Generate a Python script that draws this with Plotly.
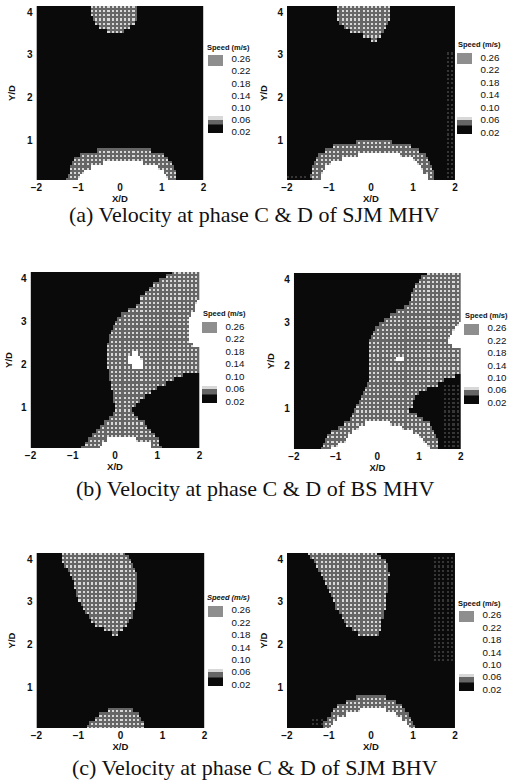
import numpy as np
import plotly.graph_objects as go

W, H = 511, 780
X_TICKS = [-2, -1, 0, 1, 2]
Y_TICKS = [1, 2, 3, 4]
LEGEND_TICKS = [0.02, 0.06, 0.10, 0.14, 0.18, 0.22, 0.26]
LEGEND_LABELS = ["0.02", "0.06", "0.10", "0.14", "0.18", "0.22", "0.26"]
CAPTIONS = ["(a) Velocity at phase C &amp; D of SJM MHV",
            "(b) Velocity at phase C &amp; D of BS MHV",
            "(c) Velocity at phase C &amp; D of SJM BHV"]
SPEED_LOW, SPEED_SPECK, SPEED_MID_DARK, SPEED_MID_LIGHT, SPEED_HIGH = 0.02, 0.0425, 0.052, 0.065, 0.14

ROW_Y = [round(0.025 + 0.05 * i, 3) for i in range(84)]
COL_X = [round(-1.975 + 0.05 * i, 3) for i in range(80)]

# (y row, x from, x to) spans
A_C_MID = [(4.15,-.7,.42),(4.05,-.7,.41),(3.95,-.68,.4),(3.85,-.65,.38),(3.75,-.6,.33),(3.65,-.5,.27),(3.55,-.3,.08),
           (.75,-.55,.75),(.65,-.96,1.03),(.55,-1.08,1.15),(.45,-1.16,1.23),(.35,-1.2,1.3),(.25,-1.22,1.35),(.15,-1.25,1.35),(.05,-1.28,1.35)]
A_C_HIGH = [(.45,-.38,.56),(.35,-.68,.92),(.25,-.87,1.04),(.15,-.97,1.11),(.05,-1.0,1.15)]
A_C_SPECK = []

A_D_MID = [(4.15,-.8,.47),(4.05,-.8,.47),(3.95,-.8,.47),(3.85,-.78,.43),(3.75,-.75,.39),(3.65,-.66,.35),(3.55,-.5,.3),(3.45,-.2,.25),(3.35,-.02,.17),
           (.95,-.35,.5),(.85,-.9,.97),(.75,-1.09,1.17),(.65,-1.25,1.28),(.55,-1.32,1.36),(.45,-1.36,1.42),(.35,-1.4,1.45),(.25,-1.42,1.5),(.15,-1.44,1.52),(.05,-1.4,1.52)]
A_D_HIGH = [(.65,-.3,.7),(.55,-.7,1.0),(.45,-.95,1.1),(.35,-1.08,1.2),(.25,-1.15,1.27),(.15,-1.2,1.33),(.05,-1.22,1.37)]
A_D_SPECK = [(0.1, 3.1, 1.75, 2.0), (0.0, 0.2, -2.0, -1.5)]

B_C_MID = [(4.15,1.34,2),(4.05,1.22,2),(3.95,1.07,2),(3.85,.91,2),(3.75,.8,2),(3.65,.68,2),(3.55,.62,2),(3.45,.6,2),(3.35,.49,2),(3.25,.29,2),(3.15,.14,2),
           (3.05,.06,2),(2.95,0,2),(2.85,-.06,2),(2.75,-.1,2),(2.65,-.14,2),(2.55,-.16,2),(2.45,-.19,2),(2.35,-.2,2),(2.25,-.21,2),(2.15,-.21,2),(2.05,-.21,2),
           (1.95,-.2,2),(1.85,-.17,2),(1.75,-.15,1.6),(1.65,-.13,1.38),(1.55,-.1,1.18),(1.45,-.08,1.0),(1.35,-.07,.87),(1.25,-.05,.72),(1.15,-.03,.6),(1.05,-.01,.51),
           (.95,0,.41),(.85,-.06,.45),(.75,-.16,.56),(.65,-.27,.68),(.55,-.37,.77),(.45,-.47,.87),(.35,-.55,.95),(.25,-.64,1.03),(.15,-.72,1.07),(.05,-.78,1.11)]
B_C_HIGH = [(2.25,.41,.56),(2.15,.29,.62),(2.05,.29,.65),(1.95,.41,.65),
            (3.45,1.96,2),(3.35,1.92,2),(3.25,1.88,2),(3.15,1.82,2),(3.05,1.77,2),(2.95,1.73,2),(2.85,1.73,2),(2.75,1.73,2),(2.65,1.73,2),(2.55,1.77,2),(2.45,1.86,2),
            (.25,-.21,.52),(.15,-.29,.83),(.05,-.33,.87)]
B_C_SPECK = []

B_D_MID = [(4.15,1.19,2),(4.05,1.07,2),(3.95,.98,2),(3.85,.89,2),(3.75,.85,2),(3.65,.81,2),(3.55,.78,2),(3.45,.73,2),(3.35,.67,2),(3.25,.46,2),(3.15,.29,2),
           (3.05,.15,2),(2.95,.05,2),(2.85,-.04,2),(2.75,-.12,2),(2.65,-.16,2),(2.55,-.18,2),(2.45,-.2,2),(2.35,-.2,2),(2.25,-.2,2),(2.15,-.2,2),(2.05,-.2,2),
           (1.95,-.18,2),(1.85,-.2,2),(1.75,-.2,1.86),(1.65,-.2,1.62),(1.55,-.24,1.43),(1.45,-.29,1.19),(1.35,-.34,1.01),(1.25,-.39,.92),(1.15,-.44,.85),(1.05,-.5,.84),
           (.95,-.55,.75),(.85,-.61,.96),(.75,-.67,1.11),(.65,-.8,1.23),(.55,-.95,1.31),(.45,-1.08,1.37),(.35,-1.2,1.41),(.25,-1.26,1.44),(.15,-1.32,1.47),(.05,-1.36,1.47)]
B_D_HIGH = [(2.15,.45,.63),
            (2.95,1.94,2),(2.85,1.86,2),(2.75,1.8,2),(2.65,1.73,2),(2.55,1.7,2),(2.45,1.78,2),
            (.65,-.3,.29),(.55,-.45,.6),(.45,-.61,.84),(.35,-.69,1.0),(.25,-.77,1.11),(.15,-.93,1.19),(.05,-1.12,1.27)]
B_D_SPECK = [(0.0, 1.6, 1.55, 2.0)]

C_C_MID = [(4.15,-1.4,.1),(4.05,-1.4,.2),(3.95,-1.39,.27),(3.85,-1.33,.31),(3.75,-1.27,.35),(3.65,-1.2,.38),(3.55,-1.15,.4),(3.45,-1.12,.41),(3.35,-1.09,.42),(3.25,-1.06,.42),
           (3.15,-1.04,.41),(3.05,-1.0,.39),(2.95,-.95,.37),(2.85,-.9,.35),(2.75,-.83,.31),(2.65,-.77,.28),(2.55,-.68,.22),(2.45,-.58,.15),(2.35,-.42,.04),(2.25,-.2,-.05),
           (.45,-.31,.28),(.35,-.5,.43),(.25,-.62,.5),(.15,-.74,.53),(.05,-.78,.53)]
C_C_HIGH = []
C_C_SPECK = []

C_D_MID = [(4.15,-1.5,.15),(4.05,-1.43,.26),(3.95,-1.35,.33),(3.85,-1.29,.38),(3.75,-1.23,.42),(3.65,-1.19,.43),(3.55,-1.15,.42),(3.45,-1.12,.41),(3.35,-1.07,.4),(3.25,-1.0,.38),
           (3.15,-.94,.36),(3.05,-.9,.35),(2.95,-.87,.34),(2.85,-.83,.33),(2.75,-.77,.31),(2.65,-.72,.29),(2.55,-.66,.27),(2.45,-.58,.25),(2.35,-.45,.23),(2.25,-.3,.2),
           (.75,-.35,.35),(.65,-.62,.58),(.55,-.82,.74),(.45,-.9,.82),(.35,-.97,.88),(.25,-1.05,.97),(.15,-1.13,1.01),(.05,-1.17,1.03)]
C_D_HIGH = [(.45,-.27,.35),(.35,-.58,.58),(.25,-.78,.74),(.15,-.9,.86),(.05,-.93,.9)]
C_D_SPECK = [(1.6, 4.1, 1.5, 2.0), (0.1, 0.3, -1.4, -1.1)]

# (mid spans, high spans, speck boxes, plot left, right, top, bottom px, y of tick 4 px, y of tick 1 px,
#  bar left, bar top, bar bottom px, legend title x, y px, title italic, y title standoff)
PANELS = [
    (A_C_MID, A_C_HIGH, A_C_SPECK, 31, 201, 6, 180, 12, 140, 206, 55, 133, 203, 47, False, 9),
    (A_D_MID, A_D_HIGH, A_D_SPECK, 286, 457, 6, 180, 12, 140, 459, 53, 134, 458, 44, False, 8),
    (B_C_MID, B_C_HIGH, B_C_SPECK, 25, 197, 272, 448, 278, 407, 200, 322, 403, 198, 313, False, 6),
    (B_D_MID, B_D_HIGH, B_D_SPECK, 293, 463, 273, 449, 279, 408, 466, 324, 404, 465, 315, False, 7),
    (C_C_MID, C_C_HIGH, C_C_SPECK, 31, 202, 553, 728, 559, 687, 206, 606, 686, 203, 597, True, 9),
    (C_D_MID, C_D_HIGH, C_D_SPECK, 286, 457, 553, 728, 559, 687, 461, 611, 691, 458, 603, False, 8),
]

ZMIN, ZMAX = 0.015, 0.273
def frac(v):
    return (v - ZMIN) / (ZMAX - ZMIN)
BLACK, SPECK, STIPPLE_DARK, STIPPLE_LIGHT, MID_SWATCH, WHITE = "#0a0a0a", "#363636", "#666666", "#d8d8d8", "#8e8e8e", "#ffffff"
SCALE = [[0, BLACK], [frac(.04), BLACK], [frac(.04), SPECK], [frac(.045), SPECK], [frac(.045), STIPPLE_DARK], [frac(.059), STIPPLE_DARK],
         [frac(.059), STIPPLE_LIGHT], [frac(.07), STIPPLE_LIGHT],
         [frac(.07), WHITE], [frac(.237), WHITE], [frac(.237), MID_SWATCH], [1, MID_SWATCH]]

def field(mid, high, speck):
    """Speed on the fine grid; the mid band is printed as a halftone of two greys."""
    z = np.full((len(ROW_Y), len(COL_X)), SPEED_LOW)
    xs, ys = np.array(COL_X), np.array(ROW_Y)
    ri, ci = np.arange(len(ROW_Y))[:, None], np.arange(len(COL_X))[None, :]
    dots = (ri % 2 == 0) & (ci % 2 == 0)
    halftone = np.where(dots, SPEED_MID_LIGHT, SPEED_MID_DARK)
    for y0, y1, x0, x1 in speck:
        box = ((ys >= y0) & (ys < y1))[:, None] & ((xs >= x0) & (xs < x1))[None, :]
        z[box & dots] = SPEED_SPECK
    for spans, high_flag in ((mid, False), (high, True)):
        for y, x0, x1 in spans:
            rows = np.abs(ys - y) < 0.05
            cols = (xs >= x0) & (xs < x1)
            mask = rows[:, None] & cols[None, :]
            z[mask] = SPEED_HIGH if high_flag else halftone[mask]
    return z

fig = go.Figure()
TICK_FONT = dict(family="Liberation Sans", size=10, color="#111111", weight="bold")
TITLE_FONT = dict(family="Liberation Sans", size=9.5, color="#111111", weight="bold")
annotations = []
for i, p in enumerate(PANELS, start=1):
    mid, high, speck, l, r, t, b, y4, y1, bx, bt, bb, tx, ty, ital, ystand = p
    per = (y1 - y4) / 3.0
    y_top = 4 + (y4 - t) / per
    y_bot = 1 - (b - y1) / per
    sfx = "" if i == 1 else str(i)
    fig.add_trace(go.Heatmap(
        x=COL_X, y=ROW_Y, z=field(mid, high, speck), xaxis="x" + sfx, yaxis="y" + sfx,
        zmin=ZMIN, zmax=ZMAX, colorscale=SCALE, hoverinfo="skip",
        colorbar=dict(x=bx / W, xanchor="left", xpad=0, y=1 - bb / H, yanchor="bottom", ypad=0,
                      lenmode="pixels", len=bb - bt, thicknessmode="pixels", thickness=15,
                      tickmode="array", tickvals=LEGEND_TICKS, ticktext=LEGEND_LABELS,
                      ticks="outside", ticklen=7, tickcolor="rgba(0,0,0,0)", outlinewidth=0,
                      tickfont=dict(family="Liberation Sans", size=9.8, color="#111111"))))
    fig.layout["xaxis" + sfx] = dict(domain=[l / W, r / W], range=[-2, 2], tickvals=X_TICKS, anchor="y" + sfx,
                                     ticks="", tickfont=TICK_FONT, showgrid=False, zeroline=False, showline=False,
                                     title=dict(text="X/D", font=TITLE_FONT, standoff=0))
    fig.layout["yaxis" + sfx] = dict(domain=[1 - b / H, 1 - t / H], range=[y_bot, y_top], tickvals=Y_TICKS, anchor="x" + sfx,
                                     ticks="outside", ticklen=1, tickcolor="rgba(0,0,0,0)", tickfont=TICK_FONT, showgrid=False,
                                     zeroline=False, showline=False,
                                     title=dict(text="Y/D", font=TITLE_FONT, standoff=ystand))
    txt = "Speed (m/s)"
    annotations.append(dict(text=("<i>%s</i>" % txt) if ital else txt, x=tx / W, y=1 - ty / H, xref="paper", yref="paper",
                            xanchor="left", yanchor="middle", showarrow=False,
                            font=dict(family="Liberation Sans", size=7.5, color="#111111", weight="bold")))
for cap, cy in zip(CAPTIONS, (214, 488, 767)):
    annotations.append(dict(text=cap, x=253 / W, y=1 - cy / H, xref="paper", yref="paper", xanchor="center", yanchor="middle",
                            showarrow=False, font=dict(family="Liberation Serif", size=22, color="#111111")))
fig.update_layout(width=W, height=H, margin=dict(l=0, r=0, t=0, b=0), paper_bgcolor="white", plot_bgcolor="white",
                  showlegend=False, annotations=annotations)
fig.write_html("out.html", config=dict(displayModeBar=False),
               post_script="document.body.style.margin='0';document.documentElement.style.overflow='hidden';")
